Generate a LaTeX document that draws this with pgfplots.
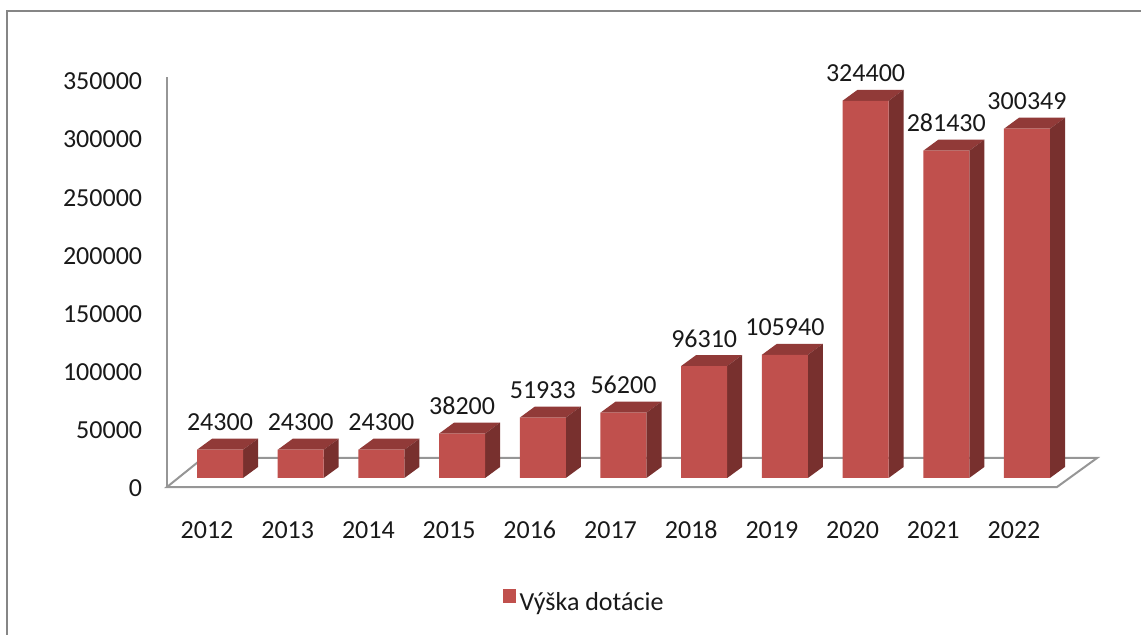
\documentclass[border=0pt]{standalone}
\usepackage{fontspec}
\setmainfont{Carlito}
\usepackage{pgfplots}
\usepackage{pgfplotstable}
\pgfplotsset{compat=1.18}
\definecolor{frontc}{RGB}{192,80,77}
\definecolor{topc}{RGB}{145,58,56}
\definecolor{sidec}{RGB}{120,48,46}
\definecolor{floorc}{RGB}{150,150,150}
\definecolor{framec}{RGB}{134,134,134}
\definecolor{textc}{RGB}{25,25,25}

\pgfplotstableread{
x year v
0 2012 24300
1 2013 24300
2 2014 24300
3 2015 38200
4 2016 51933
5 2017 56200
6 2018 96310
7 2019 105940
8 2020 324400
9 2021 281430
10 2022 300349
}\datatable

\def\hw{0.285}
\def\ddx{0.186}
\def\ddy{9460}

\begin{document}
\fontsize{13bp}{15.6bp}\selectfont
\color{textc}
\begin{tikzpicture}
\draw[line width=1bp, color=framec] (3.5bp,-5bp) -- (3.5bp,312bp) -- (580bp,312bp);
\begin{axis}[
  at={(83.5bp,74bp)}, anchor=south west,
  scale only axis, width=465.5bp, height=208bp,
  xmin=-0.6568, xmax=10.880, ymin=-7740, ymax=350000,
  clip=false,
  scaled y ticks=false,
  axis line style={draw=none},
  tick style={draw=none},
  xtick={0,1,2,3,4,5,6,7,8,9,10},
  xticklabels={2012,2013,2014,2015,2016,2017,2018,2019,2020,2021,2022},
  ytick={0,50000,100000,150000,200000,250000,300000,350000},
  yticklabels={0,50000,100000,150000,200000,250000,300000,350000},
  xticklabel style={anchor=base, inner sep=0pt, yshift=-25.5bp, xshift=-6.5bp},
  yticklabel style={anchor=east, inner sep=0pt, xshift=-12.25bp, yshift=-5.25bp},
  legend style={at={(0.449,-0.281)}, anchor=center, draw=none, fill=none, legend cell align=left},
]
% floor and vertical axis line
\addplot[draw=floorc, line width=1bp, forget plot] coordinates {(-0.6568,-7740) (10.372,-7740) (10.868,17200) (-0.2107,17200)} -- cycle;
\addplot[draw=floorc, line width=1bp, forget plot] coordinates {(-0.6568,-7740) (-0.6568,344860)};
% top and side faces of the bars
\pgfplotsforeachungrouped \i in {0,...,10}{%
  \pgfplotstablegetelem{\i}{v}\of\datatable
  \let\barval\pgfplotsretval
  \edef\tmp{%
    \noexpand\addplot[fill=topc, draw=none, forget plot] coordinates {(\fpeval{\i-\hw},\barval) (\fpeval{\i+\hw},\barval) (\fpeval{\i+\hw+\ddx},\fpeval{\barval+\ddy}) (\fpeval{\i-\hw+\ddx},\fpeval{\barval+\ddy})} -- cycle;
    \noexpand\addplot[fill=sidec, draw=none, forget plot] coordinates {(\fpeval{\i+\hw},0) (\fpeval{\i+\hw+\ddx},\ddy) (\fpeval{\i+\hw+\ddx},\fpeval{\barval+\ddy}) (\fpeval{\i+\hw},\barval)} -- cycle;
  }\tmp
}
% front faces
\addplot[ybar, bar width=0.570, bar shift=0pt, fill=frontc, draw=none,
  point meta=explicit symbolic, nodes near coords,
  every node near coord/.append style={anchor=base, inner sep=0pt, yshift=9.5bp, text=textc},
  legend image code/.code={\fill[frontc] (0bp,0.5bp) rectangle (6.5bp,7.5bp);}]
  table[x=x, y=v, meta=v]{\datatable};
\addlegendentry{Výška dotácie}
\end{axis}
\pgfresetboundingbox
\useasboundingbox (0,0) rectangle (570.5bp,317.5bp);
\end{tikzpicture}
\end{document}
